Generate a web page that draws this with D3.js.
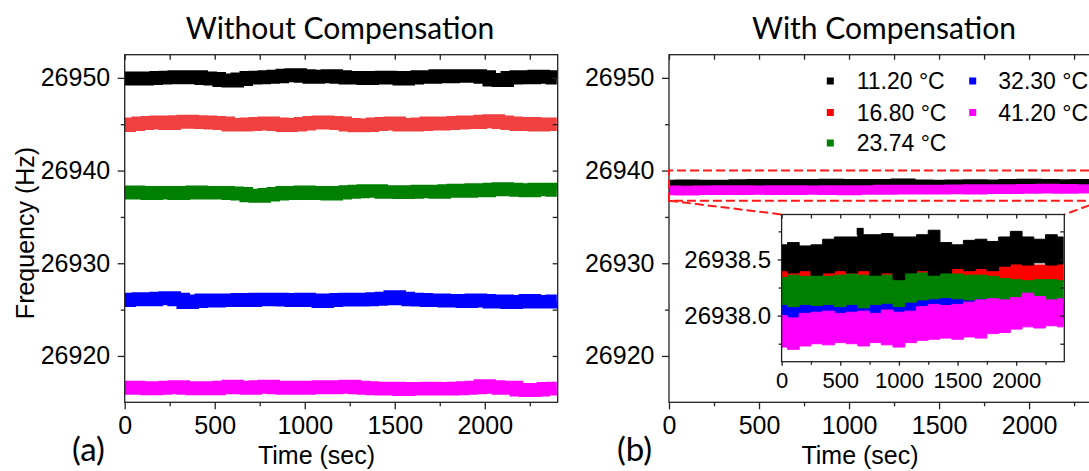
<!DOCTYPE html>
<html>
<head>
<meta charset="utf-8">
<script src="https://cdn.jsdelivr.net/npm/d3@7"></script>
<style>
  body { margin: 0; background: #fff; }
  svg { display: block; }
</style>
</head>
<body>
<svg id="chart" width="1089" height="471"></svg>
<script>
// ---- data ----
var seriesLabels = ["11.20 °C", "16.80 °C", "23.74 °C", "32.30 °C", "41.20 °C"];
var colorsA = ["#000000", "#f04040", "#008000", "#0000ff", "#ff00ff"];
var colorsB = ["#000000", "#ff0000", "#008000", "#0000ff", "#ff00ff"];

// (a) without compensation, sampled every 50 s
var timeA = [0,50,100,150,200,250,300,350,400,450,500,550,600,650,700,750,800,850,900,950,
  1000,1050,1100,1150,1200,1250,1300,1350,1400,1450,1500,1550,1600,1650,1700,1750,1800,1850,1900,1950,
  2000,2050,2100,2150,2200,2250,2300,2350,2400];
var freqA11 = [26949.9,26949.95,26949.9,26949.95,26950.0,26950.05,26950.1,26950.05,26950.1,26949.95,
  26949.9,26949.75,26949.7,26949.85,26950.0,26950.05,26950.1,26950.15,26950.25,26950.3,
  26950.2,26950.1,26950.15,26950.2,26950.1,26950.0,26950.0,26949.95,26950.0,26950.05,
  26950.0,26949.9,26950.0,26950.1,26950.1,26950.2,26950.15,26950.2,26950.2,26950.2,
  26950.1,26949.8,26949.75,26950.0,26950.1,26950.05,26950.15,26950.1,26950.0];
var freqA16 = [26944.9,26945.0,26945.1,26945.15,26945.2,26945.1,26945.25,26945.3,26945.25,26945.2,
  26945.15,26945.1,26944.95,26944.95,26945.0,26945.05,26945.1,26945.0,26944.9,26944.95,
  26945.05,26945.15,26945.2,26945.15,26945.1,26944.95,26944.85,26944.9,26945.0,26945.05,
  26945.1,26944.95,26944.95,26945.0,26945.1,26945.05,26945.1,26945.15,26945.2,26945.2,
  26945.3,26945.35,26945.2,26945.1,26945.0,26945.05,26944.95,26945.0,26945.0];
var freqA23 = [26937.6,26937.65,26937.6,26937.55,26937.6,26937.6,26937.55,26937.6,26937.65,26937.6,
  26937.6,26937.6,26937.55,26937.5,26937.3,26937.25,26937.4,26937.5,26937.6,26937.55,
  26937.65,26937.55,26937.6,26937.5,26937.6,26937.7,26937.75,26937.8,26937.8,26937.7,
  26937.7,26937.65,26937.7,26937.75,26937.75,26937.7,26937.8,26937.85,26937.8,26937.9,
  26937.85,26937.95,26938.0,26937.95,26937.9,26937.85,26937.95,26937.95,26937.9];
var freqA32 = [26926.0,26926.1,26926.15,26926.1,26926.2,26926.25,26926.1,26925.8,26925.9,26926.0,
  26925.95,26926.0,26926.0,26926.05,26926.0,26926.1,26926.1,26926.1,26926.05,26926.0,
  26926.1,26926.0,26925.9,26926.0,26926.05,26926.1,26926.05,26926.1,26926.15,26926.2,
  26926.35,26926.2,26926.1,26926.05,26926.0,26926.0,26925.95,26925.95,26925.9,26926.0,
  26925.95,26925.85,26925.9,26925.8,26925.85,26925.95,26925.85,26925.85,26925.9];
var freqA41 = [26916.55,26916.6,26916.55,26916.5,26916.55,26916.6,26916.65,26916.55,26916.5,26916.55,
  26916.5,26916.6,26916.7,26916.6,26916.55,26916.65,26916.7,26916.6,26916.55,26916.6,
  26916.55,26916.6,26916.65,26916.6,26916.65,26916.7,26916.6,26916.55,26916.5,26916.45,
  26916.5,26916.4,26916.45,26916.45,26916.5,26916.45,26916.45,26916.5,26916.55,26916.6,
  26916.75,26916.65,26916.55,26916.6,26916.35,26916.3,26916.35,26916.45,26916.5];
var freqA = [freqA11, freqA16, freqA23, freqA32, freqA41];

// (b) with compensation: upper / lower edge of each band, sampled every 100 s
var timeB = [0,100,200,300,400,500,600,700,800,900,1000,1100,1200,1300,1400,1500,1600,1700,1800,1900,2000,2100,2200,2300,2400];
var hiB11 = [26938.63,26938.65,26938.62,26938.63,26938.68,26938.7,26938.7,26938.72,26938.72,26938.73,26938.7,26938.7,26938.72,
  26938.76,26938.65,26938.63,26938.67,26938.68,26938.66,26938.7,26938.75,26938.7,26938.68,26938.72,26938.7];
var loB11 = [26938.4,26938.38,26938.4,26938.36,26938.38,26938.4,26938.38,26938.4,26938.36,26938.38,26938.32,26938.38,26938.4,
  26938.36,26938.38,26938.42,26938.4,26938.42,26938.4,26938.44,26938.46,26938.45,26938.47,26938.45,26938.46];
var hiB16 = [26938.4,26938.42,26938.4,26938.42,26938.4,26938.42,26938.43,26938.4,26938.42,26938.44,26938.42,26938.45,26938.43,
  26938.42,26938.4,26938.43,26938.42,26938.43,26938.44,26938.45,26938.47,26938.46,26938.45,26938.47,26938.46];
var loB16 = [26938.25,26938.26,26938.25,26938.27,26938.26,26938.25,26938.27,26938.26,26938.27,26938.28,26938.27,26938.28,26938.27,
  26938.28,26938.27,26938.28,26938.29,26938.28,26938.3,26938.3,26938.3,26938.31,26938.3,26938.31,26938.3];
var hiB23 = [26938.34,26938.36,26938.35,26938.36,26938.35,26938.36,26938.37,26938.36,26938.37,26938.36,26938.38,26938.38,26938.38,
  26938.37,26938.38,26938.37,26938.36,26938.36,26938.35,26938.33,26938.32,26938.31,26938.32,26938.32,26938.31];
var loB23 = [26938.1,26938.08,26938.1,26938.09,26938.1,26938.08,26938.1,26938.07,26938.1,26938.11,26938.08,26938.12,26938.14,
  26938.15,26938.16,26938.15,26938.14,26938.15,26938.14,26938.13,26938.13,26938.12,26938.13,26938.12,26938.13];
var hiB32 = [26938.14,26938.12,26938.13,26938.15,26938.14,26938.16,26938.17,26938.15,26938.14,26938.16,26938.15,26938.17,26938.18,
  26938.17,26938.16,26938.18,26938.17,26938.15,26938.14,26938.13,26938.12,26938.13,26938.12,26938.11,26938.12];
var loB32 = [26937.92,26937.93,26937.92,26937.94,26937.93,26937.92,26937.94,26937.95,26937.93,26937.94,26937.95,26937.94,26937.95,
  26937.96,26937.95,26937.96,26937.95,26937.96,26937.97,26937.96,26937.97,26937.96,26937.97,26937.96,26937.97];
var hiB41 = [26938.0,26937.98,26938.02,26938.03,26938.04,26938.02,26938.03,26938.04,26938.02,26938.05,26938.03,26938.04,26938.08,
  26938.1,26938.09,26938.1,26938.12,26938.14,26938.15,26938.14,26938.16,26938.2,26938.17,26938.14,26938.15];
var loB41 = [26937.72,26937.7,26937.73,26937.75,26937.74,26937.76,26937.75,26937.73,26937.76,26937.74,26937.72,26937.76,26937.78,
  26937.79,26937.8,26937.79,26937.81,26937.8,26937.84,26937.85,26937.88,26937.9,26937.89,26937.91,26937.9];
var hiB = [hiB11, hiB16, hiB23, hiB32, hiB41];
var loB = [loB11, loB16, loB23, loB32, loB41];
var outlierB11 = [[670, 26938.75]];

// ticks
var yMajor = [26920, 26930, 26940, 26950];
var yMinor = [26925, 26935, 26945];
var xMajor = [0, 500, 1000, 1500, 2000];
var xMinor = [250, 750, 1250, 1750, 2250];
var yInsetMajor = [26938.0, 26938.5];
var yInsetMinor = [26937.75, 26938.25, 26938.75];
var zoomFreq = [26936.75, 26940];

// ---- drawing ----
var svg = d3.select("#chart");
var fontAx = '"Liberation Sans", Arial, sans-serif';
var fontTitle = 'Lato, "Open Sans", sans-serif';
var axisColor = "#222";
var drawOrder = [1, 3, 2, 0, 4];

var yMain = d3.scaleLinear().domain([26915, 26952.5]).range([402.3, 54.7]);
var xLeft = d3.scaleLinear().domain([0, 2405]).range([124.7, 557.7]);
var xRight = d3.scaleLinear().domain([0, 2405]).range([669, 1102]);
var xInset = d3.scaleLinear().domain([0, 2410]).range([781.6, 1064.3]);
var yInset = d3.scaleLinear().domain([26937.59, 26938.9]).range([361.7, 214.5]);

function ticks(g, axisFn, scale, vals, size, tr, fmt, fs, pad) {
  var a = axisFn(scale).tickValues(vals).tickSize(size).tickPadding(pad || 0)
    .tickFormat(fmt || function() { return ""; });
  var sel = g.append("g").attr("transform", tr).call(a);
  sel.select(".domain").remove();
  sel.selectAll("line").attr("stroke", axisColor).attr("stroke-width", 1.3);
  sel.selectAll("text").attr("font-family", fontAx).attr("font-size", fs || 10).attr("fill", "#000");
  return sel;
}

function clipFor(id, x, y) {
  svg.append("clipPath").attr("id", id).append("rect")
    .attr("x", x.range()[0]).attr("y", y.range()[1])
    .attr("width", x.range()[1] - x.range()[0]).attr("height", y.range()[0] - y.range()[1]);
  return "url(#" + id + ")";
}

function frame(g, x, y, o) {
  var x0 = x.range()[0], x1 = x.range()[1], y0 = y.range()[1], y1 = y.range()[0];
  var fmtY = o.fmtY || d3.format("d");
  ticks(g, d3.axisLeft, y, o.yMaj, o.out, "translate(" + x0 + ",0)", fmtY, o.fsY, o.padY);
  ticks(g, d3.axisLeft, y, o.yMin, o.outMin, "translate(" + x0 + ",0)");
  ticks(g, d3.axisBottom, x, o.xMaj, o.out, "translate(0," + y1 + ")", d3.format("d"), o.fsX, o.padX);
  ticks(g, d3.axisBottom, x, o.xMin, o.outMin, "translate(0," + y1 + ")");
  ticks(g, d3.axisTop, x, o.xMaj.concat(o.xMin), -o.inn, "translate(0," + y0 + ")");
  ticks(g, d3.axisRight, y, o.yMaj.concat(o.yMin), -o.inn, "translate(" + x1 + ",0)");
  g.append("rect").attr("x", x0).attr("y", y0).attr("width", x1 - x0).attr("height", y1 - y0)
    .attr("fill", "none").attr("stroke", axisColor).attr("stroke-width", 1.3);
}

function bandPath(x, y, lo, hi, t) {
  return d3.area().curve(d3.curveStep)
    .x(function(d, i) { return x(t[i]); })
    .y0(function(d, i) { return y(lo[i]); })
    .y1(function(d, i) { return y(hi[i]); })(t);
}

// panel (a)
var gA = svg.append("g");
var clipA = clipFor("clipA", xLeft, yMain);
var lineA = d3.line().curve(d3.curveStep);
gA.append("g").attr("clip-path", clipA).selectAll("path")
  .data(freqA).enter().append("path")
  .attr("d", function(s) { return lineA(s.map(function(v, i) { return [xLeft(timeA[i]), yMain(v)]; })); })
  .attr("fill", "none")
  .attr("stroke", function(s, i) { return colorsA[i]; })
  .attr("stroke-width", 13.5);
frame(gA, xLeft, yMain, { yMaj: yMajor, yMin: yMinor, xMaj: xMajor, xMin: xMinor,
  out: 7, outMin: 4, inn: 5, fsY: 25, fsX: 25, padY: 7.5, padX: 7 });

// panel (b)
var gB = svg.append("g");
var clipB = clipFor("clipB", xRight, yMain);
var bandsB = gB.append("g").attr("clip-path", clipB);
drawOrder.forEach(function(k) {
  bandsB.append("path").attr("d", bandPath(xRight, yMain, loB[k], hiB[k], timeB))
    .attr("fill", colorsB[k]).attr("stroke", colorsB[k]).attr("stroke-width", 7)
    .attr("stroke-linejoin", "miter");
});
frame(gB, xRight, yMain, { yMaj: yMajor, yMin: yMinor, xMaj: xMajor, xMin: xMinor,
  out: 7, outMin: 4, inn: 5, fsY: 25, fsX: 25, padY: 7.5, padX: 7 });

// zoom box and connectors
var dash = { stroke: "#ff1a1a", w: 2, d: "9,4" };
var zx0 = xRight(0), zx1 = xRight(2405), zyTop = yMain(zoomFreq[1]), zyBot = yMain(zoomFreq[0]);
var zoomLines = [
  [[zx1, zyTop], [zx0, zyTop], [zx0, zyBot], [zx1, zyBot]],
  [[zx0, zyBot], [xInset(0), yInset.range()[1]]],
  [[zx1, zyBot], [xInset(2410), yInset.range()[1]]]
];
gB.selectAll(".zoomline").data(zoomLines).enter().append("path")
  .attr("d", d3.line()).attr("fill", "none")
  .attr("stroke", dash.stroke).attr("stroke-width", dash.w).attr("stroke-dasharray", dash.d);

// inset
var gI = svg.append("g");
gI.append("rect").attr("x", xInset.range()[0]).attr("y", yInset.range()[1])
  .attr("width", xInset.range()[1] - xInset.range()[0]).attr("height", yInset.range()[0] - yInset.range()[1])
  .attr("fill", "#fff");
var clipI = clipFor("clipI", xInset, yInset);
var bandsI = gI.append("g").attr("clip-path", clipI);
drawOrder.forEach(function(k) {
  bandsI.append("path").attr("d", bandPath(xInset, yInset, loB[k], hiB[k], timeB))
    .attr("fill", colorsB[k]).attr("stroke", colorsB[k]).attr("stroke-width", 1);
  if (k === 0) {
    bandsI.selectAll(".outlier").data(outlierB11).enter().append("rect")
      .attr("x", function(d) { return xInset(d[0]) - 3.5; })
      .attr("y", function(d) { return yInset(d[1]) - 3.5; })
      .attr("width", 7).attr("height", 7).attr("fill", colorsB[0]);
  }
});
frame(gI, xInset, yInset, { yMaj: yInsetMajor, yMin: yInsetMinor, xMaj: xMajor, xMin: xMinor,
  out: 4, outMin: 3, inn: 4, fsY: 24, fsX: 22, padY: 6.5, padX: 7, fmtY: d3.format(".1f") });

// legend
var legend = svg.append("g");
var legRows = [81, 112.5, 143];
var legSquareX = [830.3, 972.7];
var legTextX = [856.7, 998.3];
seriesLabels.forEach(function(lab, i) {
  var col = i < 3 ? 0 : 1, row = i < 3 ? i : i - 3;
  legend.append("rect").attr("x", legSquareX[col] - 3.5).attr("y", legRows[row] - 3.5)
    .attr("width", 7).attr("height", 7).attr("fill", colorsB[i]);
  legend.append("text").attr("x", legTextX[col]).attr("y", legRows[row]).attr("dy", "0.35em")
    .attr("font-family", fontAx).attr("font-size", 23).text(lab);
});

// titles and labels
var texts = [
  { t: "Without Compensation", x: 340, y: 39, f: fontTitle, s: 30, a: "middle" },
  { t: "With Compensation", x: 884, y: 39, f: fontTitle, s: 30, a: "middle" },
  { t: "Time (sec)", x: 316.5, y: 464, f: fontAx, s: 25, a: "middle" },
  { t: "Time (sec)", x: 860, y: 464, f: fontAx, s: 25, a: "middle" },
  { t: "(a)", x: 72, y: 461, f: fontTitle, s: 33, a: "start" },
  { t: "(b)", x: 617, y: 461, f: fontTitle, s: 33, a: "start" }
];
svg.selectAll(".lbl").data(texts).enter().append("text")
  .attr("x", function(d) { return d.x; }).attr("y", function(d) { return d.y; })
  .attr("font-family", function(d) { return d.f; }).attr("font-size", function(d) { return d.s; })
  .attr("text-anchor", function(d) { return d.a; }).text(function(d) { return d.t; });

svg.append("text").attr("transform", "translate(33.5,233) rotate(-90)")
  .attr("text-anchor", "middle").attr("font-family", fontAx).attr("font-size", 25)
  .text("Frequency (Hz)");
</script>
</body>
</html>
